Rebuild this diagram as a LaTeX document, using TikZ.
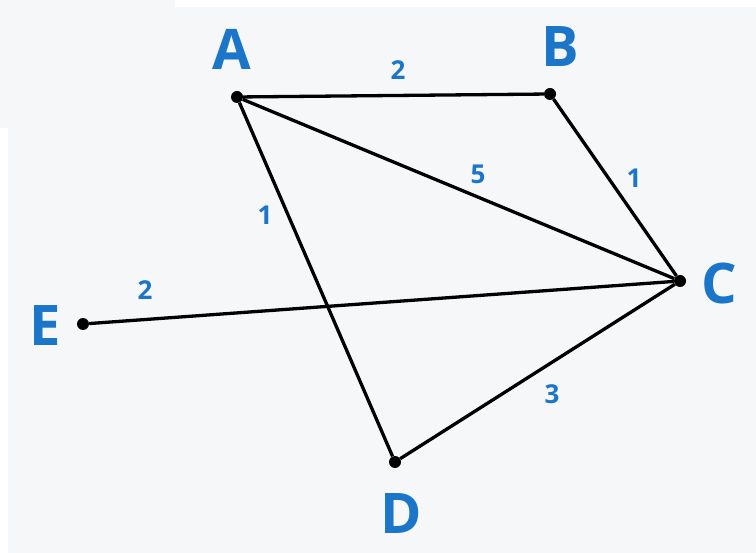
\documentclass[tikz,border=0pt]{standalone}
\usepackage{fontspec}
\setmainfont{Open Sans}
\usepackage{tikz}
\usetikzlibrary{positioning}
\definecolor{vlabel}{HTML}{1B75C9}
\definecolor{canvas}{HTML}{F6F7F9}

\begin{document}
\begin{tikzpicture}[x=1pt, y=-1pt,
  vertex/.style={circle, fill=black, inner sep=0pt, minimum size=12pt},
  vname/.style={font=\fontsize{56}{56}\selectfont\bfseries, text=vlabel},
  wlabel/.style={font=\fontsize{26}{26}\selectfont\bfseries, text=vlabel},
  edge/.style={line width=3.3pt}]
  % Background
  \fill[canvas] (0,0) rectangle (756,553);
  \fill[white] (175,0) rectangle (756,7);
  \fill[white] (0,128) rectangle (8,553);
  \useasboundingbox (0,0) rectangle (756,553);

  % Vertices
  \node[vertex] (A) at (237,97) {};
  \node[vertex] (B) at (550,94) {};
  \node[vertex] (C) at (680,281) {};
  \node[vertex] (D) at (395,462) {};
  \node[vertex] (E) at (83,324) {};

  % Vertex names
  \node[vname] (nA) at (232,49) {A};
  \node[vname] (nB) at (560,47) {B};
  \node[vname] (nC) at (719,283) {C};
  \node[vname] (nD) at (401,514) {D};
  \node[vname] (nE) at (45,326) {E};

  % Edges
  \draw[edge] (A) -- (B);
  \draw[edge] (A) -- (C);
  \draw[edge] (A) -- (D);
  \draw[edge] (B) -- (C);
  \draw[edge] (C) -- (D);
  \draw[edge] (E) -- (C);

  % Weights
  \node[wlabel] (wAB) at (398,70) {2};
  \node[wlabel] (wAC) at (478,174) {5};
  \node[wlabel] (wBC) at (634,178) {1};
  \node[wlabel] (wAD) at (265,215) {1};
  \node[wlabel] (wEC) at (145,290) {2};
  \node[wlabel] (wCD) at (552,394) {3};
\end{tikzpicture}
\end{document}
